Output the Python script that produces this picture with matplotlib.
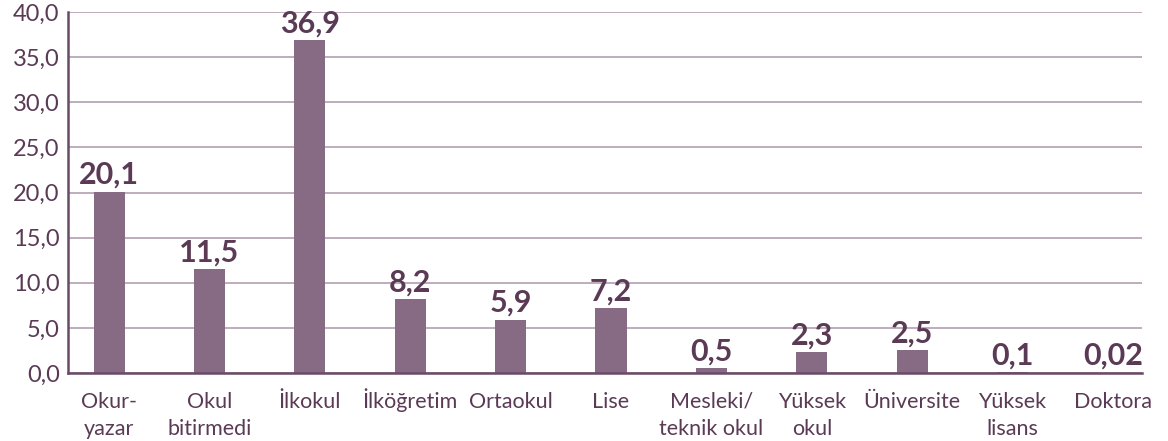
import matplotlib.pyplot as plt
from matplotlib.ticker import FuncFormatter

categories = ["Okur-\nyazar", "Okul\nbitirmedi", "İlkokul", "İlköğretim", "Ortaokul", "Lise",
              "Mesleki/\nteknik okul", "Yüksek\nokul", "Üniversite", "Yüksek\nlisans", "Doktora"]
values = [20.1, 11.5, 36.9, 8.2, 5.9, 7.2, 0.5, 2.3, 2.5, 0.1, 0.02]
value_labels = ["20,1", "11,5", "36,9", "8,2", "5,9", "7,2", "0,5", "2,3", "2,5", "0,1", "0,02"]
y_ticks = [0, 5, 10, 15, 20, 25, 30, 35, 40]

bar_color = "#876a83"
grid_color = "#b9a6b6"
axis_color = "#6a4b65"
text_color = "#5a3a55"

plt.rcParams['font.family'] = ['Lato', 'DejaVu Sans']

fig = plt.figure(figsize=(11.68, 4.41), dpi=100)
ax = fig.add_axes([68 / 1168, 68 / 441, (1142 - 68) / 1168, (373 - 12) / 441])

x = list(range(len(values)))
ax.bar(x, values, width=0.31, color=bar_color, zorder=3)

for xi, v, lab in zip(x, values, value_labels):
    ax.annotate(lab, (xi, v), xytext=(0, 2), textcoords="offset points",
                ha="center", va="bottom", fontsize=22, fontweight="bold", color=text_color)

# category labels: each line placed on its own baseline so İ/Ü don't push text down
for xi, cat in zip(x, categories):
    for i, line in enumerate(cat.split("\n")):
        ax.annotate(line, (xi, 0), xycoords=ax.get_xaxis_transform(),
                    xytext=(0, -25 - 19.5 * i), textcoords="offset points",
                    ha="center", va="baseline", fontsize=15.5, color=text_color)

ax.set_xlim(-0.41, 10.29)
ax.set_ylim(0, 40)
ax.set_yticks(y_ticks)
ax.yaxis.set_major_formatter(FuncFormatter(lambda v, p: f"{v:.1f}".replace(".", ",")))
ax.set_xticks([])

ax.grid(axis="y", color=grid_color, linewidth=1.3, zorder=0)
ax.tick_params(axis="y", length=0, colors=text_color, labelsize=17, pad=6)

for side in ["top", "right"]:
    ax.spines[side].set_visible(False)
for side in ["left", "bottom"]:
    ax.spines[side].set_color(axis_color)
    ax.spines[side].set_linewidth(1.8)
    ax.spines[side].set_zorder(4)

fig.savefig("out.png", dpi=100)
